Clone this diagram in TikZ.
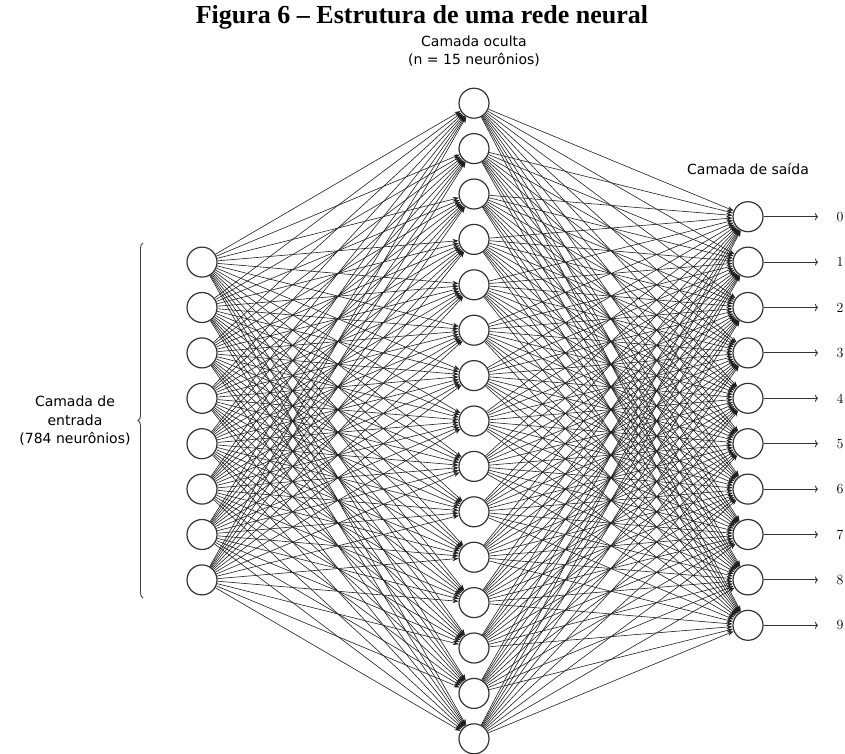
\documentclass[tikz,border=0pt]{standalone}
\usepackage{fontspec}
\newfontfamily\labelfont{DejaVu Sans}
\newfontfamily\titlefont{Liberation Serif}
\usetikzlibrary{arrows.meta,decorations.pathreplacing}

\begin{document}
\begin{tikzpicture}[x=1pt,y=-1pt,
  neuron/.style={circle,draw=black!80,line width=1.2pt,fill=white,minimum size=30pt,inner sep=0pt},
  conn/.style={draw=black!88,line width=0.6pt,-{Stealth[length=6pt,width=4.5pt]}},
  outarrow/.style={draw=black!80,line width=0.9pt,-{To[length=3pt,width=7pt]}},
  lbl/.style={font=\labelfont\fontsize{14}{18.5}\selectfont,align=center,inner sep=0pt},
  digit/.style={font=\fontsize{14}{16}\selectfont,inner sep=0pt},
  bracestyle/.style={draw=black!75,line width=0.9pt,decorate,decoration={brace,amplitude=5pt}},
]
\useasboundingbox (0,0) rectangle (845,753);

% title
\node[font=\titlefont\bfseries\fontsize{26}{30}\selectfont,anchor=base,inner sep=0pt]
  (title) at (422,23) {Figura 6 – Estrutura de uma rede neural};

% layers: common vertical centre 421, spacing 45.4
\foreach \i in {0,...,7}
  \node[neuron] (in\i) at (202,{421+(\i-3.5)*45.4}) {};
\foreach \j in {0,...,14}
  \node[neuron] (h\j) at (474,{421+(\j-7)*45.4}) {};
\foreach \k in {0,...,9}
  \node[neuron] (out\k) at (748,{421+(\k-4.5)*45.4}) {};

% full connections
\foreach \i in {0,...,7}
  \foreach \j in {0,...,14}
    \draw[conn] (in\i) -- (h\j);
\foreach \j in {0,...,14}
  \foreach \k in {0,...,9}
    \draw[conn] (h\j) -- (out\k);

% outputs
\foreach \k in {0,...,9} {
  \coordinate (tip\k) at (818,{421+(\k-4.5)*45.4});
  \draw[outarrow] (out\k) -- (tip\k);
  \node[digit] (d\k) at (840,{421+(\k-4.5)*45.4}) {\k};
}

% layer labels
\node[lbl] (hidlbl) at (474,51) {Camada oculta\\(n = 15 neurônios)};
\node[lbl] (outlbl) at (748,169) {Camada de saída};
\node[lbl] (inlbl) at (75,421) {Camada de\\entrada\\(784 neurônios)};

% brace grouping the input layer
\coordinate (braceBot) at (143,598);
\coordinate (braceTop) at (143,243);
\draw[bracestyle] (braceBot) -- (braceTop);
\end{tikzpicture}
\end{document}
